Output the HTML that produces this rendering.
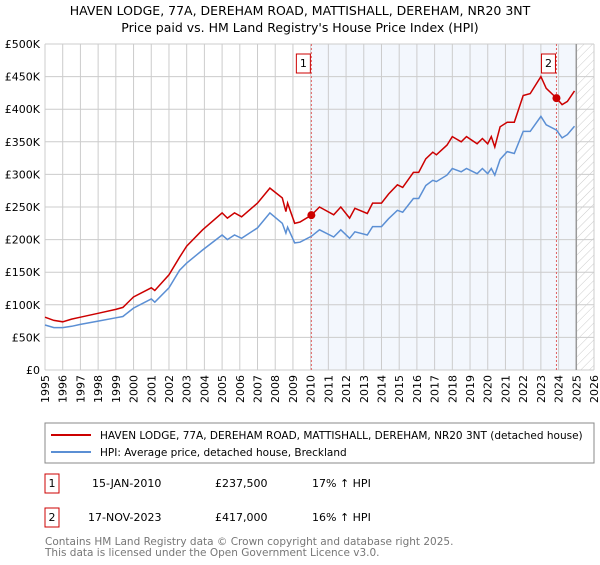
<!DOCTYPE html>
<html><head><meta charset="utf-8"><style>
body{margin:0;background:#fff;font-family:"Liberation Sans","DejaVu Sans",sans-serif}
svg text{font-family:"DejaVu Sans","Liberation Sans",sans-serif}
</style></head><body>
<svg id="chart" width="600" height="560" viewBox="0 0 600 560" xmlns="http://www.w3.org/2000/svg">
<defs><pattern id="hatch" width="6" height="6" patternUnits="userSpaceOnUse" patternTransform="rotate(45)"><line x1="0" y1="0" x2="0" y2="6" stroke="#ccc" stroke-width="1"/></pattern></defs>
<text x="300" y="15" text-anchor="middle" font-size="12.5">HAVEN LODGE, 77A, DEREHAM ROAD, MATTISHALL, DEREHAM, NR20 3NT</text>
<text x="300" y="32" text-anchor="middle" font-size="12.5">Price paid vs. HM Land Registry's House Price Index (HPI)</text>
<g id="plot"></g>
<g>
<rect x="45" y="423" width="549" height="40" fill="#fff" stroke="#888"/>
<line x1="51" y1="435" x2="91" y2="435" stroke="#cc0000" stroke-width="2"/>
<text x="100" y="439" font-size="10.5" font-family="Liberation Sans">HAVEN LODGE, 77A, DEREHAM ROAD, MATTISHALL, DEREHAM, NR20 3NT (detached house)</text>
<line x1="51" y1="452" x2="91" y2="452" stroke="#5b8fd4" stroke-width="2"/>
<text x="100" y="456" font-size="10.5" font-family="Liberation Sans">HPI: Average price, detached house, Breckland</text>
</g>
<g font-size="11" font-family="Liberation Sans">
<rect x="45" y="474" width="14" height="19" fill="#fff" stroke="#cc0000"/><text x="52" y="487" text-anchor="middle">1</text>
<text x="92" y="487">15-JAN-2010</text><text x="215" y="487">£237,500</text><text x="312" y="487">17% ↑ HPI</text>
<rect x="45" y="508" width="14" height="19" fill="#fff" stroke="#cc0000"/><text x="52" y="521" text-anchor="middle">2</text>
<text x="88" y="521">17-NOV-2023</text><text x="215" y="521">£417,000</text><text x="312" y="521">16% ↑ HPI</text>
</g>
<text x="45" y="545" font-size="10.5" fill="#777" font-family="Liberation Sans">Contains HM Land Registry data © Crown copyright and database right 2025.</text>
<text x="45" y="556" font-size="10.5" fill="#777" font-family="Liberation Sans">This data is licensed under the Open Government Licence v3.0.</text>
</svg>
<script>
const redYears=[1995,1995.5,1996,1996.5,1997,1998,1999,1999.4,2000,2001,2001.2,2002,2002.6,2003,2003.9,2005,2005.3,2005.7,2006.1,2007,2007.7,2008.4,2008.6,2008.7,2009.1,2009.4,2010.04,2010.5,2011.3,2011.7,2012.2,2012.5,2013.2,2013.5,2014,2014.4,2014.9,2015.2,2015.8,2016.1,2016.5,2016.9,2017.1,2017.7,2018,2018.5,2018.8,2019.4,2019.7,2020,2020.2,2020.4,2020.7,2021.1,2021.5,2022,2022.4,2023,2023.3,2023.88,2024.2,2024.5,2024.9];
const redValues=[81,76,74,78,81,87,93,96,112,126,122,146,173,190,215,241,233,241,235,256,279,264,243,256,225,227,237.5,250,238,250,233,248,240,256,256,270,284,280,303,303,324,334,330,345,358,350,358,347,355,347,358,342,373,380,380,421,424,450,432,417,407,412,428];
const hpiValues=[69,65,65,67,70,75,80,82,95,109,104,126,153,164,184,207,200,207,202,218,241,225,210,219,195,196,205,215,204,215,202,212,207,220,220,232,245,242,263,263,283,291,289,299,309,304,309,301,309,301,309,299,323,335,332,366,366,389,376,368,356,361,374];
const yTicks=[0,50,100,150,200,250,300,350,400,450,500];
const yTickLabels=["£0","£50K","£100K","£150K","£200K","£250K","£300K","£350K","£400K","£450K","£500K"];
const xTicks=[1995,1996,1997,1998,1999,2000,2001,2002,2003,2004,2005,2006,2007,2008,2009,2010,2011,2012,2013,2014,2015,2016,2017,2018,2019,2020,2021,2022,2023,2024,2025,2026];
const sales=[{label:"1",year:2010.04,value:237.5},{label:"2",year:2023.88,value:417}];
const X0=45,X1=594,Y0=370,Y1=44;
const xs=y=>X0+(y-1995)/(2026-1995)*(X1-X0);
const ys=v=>Y0-v/500*(Y0-Y1);
const NS="http://www.w3.org/2000/svg";
const plot=document.getElementById('plot');
function mk(t,a,p){const e=document.createElementNS(NS,t);for(const k in a)e.setAttribute(k,a[k]);(p||plot).appendChild(e);return e;}
const shade=mk('rect',{x:xs(2010.04),y:Y1,width:xs(2025)-xs(2010.04),height:Y0-Y1,fill:'#eef3fc',opacity:0.7});


const hatch=mk('rect',{x:xs(2025),y:Y1,width:X1-xs(2025),height:Y0-Y1,fill:'url(#hatch)'});


xTicks.forEach(t=>{
 const l=mk('line',{x1:xs(t),x2:xs(t),y1:Y1,y2:Y0,stroke:'#ccc'});
 
 
 const tx=mk('text',{x:0,y:0,'font-size':11,'text-anchor':'end',transform:`translate(${xs(t)+4},375) rotate(-90)`});
 tx.textContent=t;
 
 
});
yTicks.forEach((t,i)=>{
 const l=mk('line',{x1:X0,x2:X1,y1:ys(t),y2:ys(t),stroke:'#ccc'});
 
 
 const tx=mk('text',{x:40,y:ys(t)+4,'font-size':11,'text-anchor':'end'});
 tx.textContent=yTickLabels[i];
 
 
});
const nowL=mk('line',{x1:xs(2025),x2:xs(2025),y1:Y1,y2:Y0,stroke:'#999','stroke-width':1.5});


sales.forEach(s=>{
 const l=mk('line',{x1:xs(s.year),x2:xs(s.year),y1:Y1,y2:Y0,stroke:'#e06060','stroke-dasharray':'2,2'});
 
 
 const r=mk('rect',{x:xs(s.year)-15,y:54,width:14,height:19,fill:'#fff',stroke:'#cc0000'});
 
 
 const t=mk('text',{x:xs(s.year)-8,y:67,'font-size':11,'text-anchor':'middle'});
 t.textContent=s.label;
 
 
});
const pts=v=>redYears.map((y,i)=>xs(y).toFixed(1)+','+ys(v[i]).toFixed(1)).join(' ');
const hl=mk('polyline',{points:pts(hpiValues),fill:'none',stroke:'#5b8fd4','stroke-width':1.5});


const rl=mk('polyline',{points:pts(redValues),fill:'none',stroke:'#cc0000','stroke-width':1.5});


sales.forEach(s=>{
 const c=mk('circle',{cx:xs(s.year),cy:ys(s.value),r:4,fill:'#cc0000'});
 
 
});
</script>
</body></html>
